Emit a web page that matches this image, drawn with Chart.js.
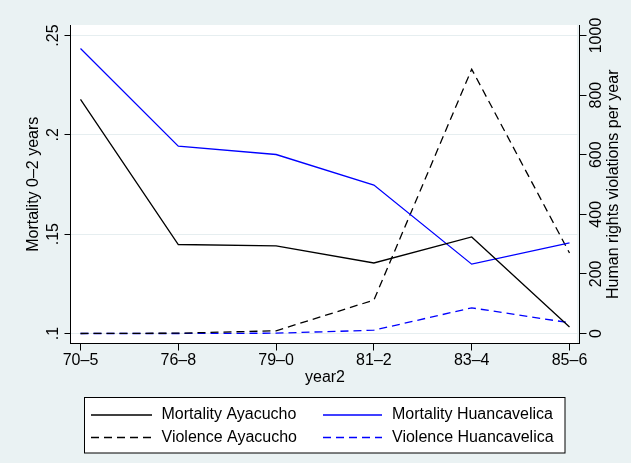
<!DOCTYPE html>
<html><head><meta charset="utf-8">
<script src="https://cdn.jsdelivr.net/npm/chart.js@4"></script>
<style>html,body{margin:0;padding:0;background:#eaf2f3;} #wrap{width:631px;height:463px;position:relative}</style>
</head><body><div id="wrap"><canvas id="c" width="631" height="463"></canvas></div>
<script>
const categories = ['70–5','76–8','79–0','81–2','83–4','85–6'];
const mortalityAyacucho = [0.2178, 0.1448, 0.1441, 0.1355, 0.1486, 0.1033];
const mortalityHuancavelica = [0.2435, 0.1943, 0.1901, 0.1747, 0.1349, 0.1456];
const violenceAyacucho = [0, 1, 9, 112, 887, 270];
const violenceHuancavelica = [0, 0, 1, 11, 86, 36];
const leftTicks = [0.1, 0.15, 0.2, 0.25];
const leftTickLabels = ['.1', '.15', '.2', '.25'];
const rightTicks = [0, 200, 400, 600, 800, 1000];
const rightTickLabels = ['0', '200', '400', '600', '800', '1000'];
const seriesLabels = ['Mortality Ayacucho', 'Mortality Huancavelica', 'Violence Ayacucho', 'Violence Huancavelica'];
const leftTitle = 'Mortality 0–2 years';
const rightTitle = 'Human rights violations per year';
const xTitle = 'year2';

const FAMILY = '"Liberation Sans", Arial, Helvetica, sans-serif';
const FONT = '16px ' + FAMILY;
const DASH = [8, 5];

function pts(arr) { return arr.map((v, i) => ({x: i, y: v})); }

function rotText(ctx, txt, x, y) {
  ctx.save();
  ctx.translate(x, y);
  ctx.rotate(-Math.PI / 2);
  ctx.fillText(txt, 0, 0);
  ctx.restore();
}

const decor = {
  id: 'decor',
  beforeDraw(chart) {
    const {ctx, chartArea: a} = chart;
    ctx.save();
    ctx.fillStyle = '#eaf2f3';
    ctx.fillRect(0, 0, chart.width, chart.height);
    ctx.fillStyle = '#ffffff';
    ctx.fillRect(a.left, a.top, a.right - a.left - 2.5, a.bottom - a.top);
    ctx.restore();
  },
  afterDraw(chart) {
    const ctx = chart.ctx;
    const yl = chart.scales.y, yr = chart.scales.y2;
    ctx.save();
    ctx.fillStyle = '#000';
    ctx.font = FONT;
    ctx.textAlign = 'center';
    ctx.textBaseline = 'alphabetic';
    yl.ticks.forEach((t, i) => rotText(ctx, leftTickLabels[i], 58, yl.getPixelForValue(t.value)));
    yr.ticks.forEach((t, i) => rotText(ctx, rightTickLabels[i], 600.5, yr.getPixelForValue(t.value)));
    const a = chart.chartArea;
    rotText(ctx, rightTitle, 617.5, (a.top + a.bottom) / 2);

    // legend
    const bx = 84.5, by = 397.5, bw = 480.5, bh = 55.5;
    ctx.fillStyle = '#ffffff';
    ctx.fillRect(bx, by, bw, bh);
    ctx.strokeStyle = '#000';
    ctx.lineWidth = 1;
    ctx.strokeRect(bx, by, bw, bh);
    const cols = [[91, 152, 161.5], [323, 382, 392]];
    const rows = [415, 437.5];
    chart.data.datasets.forEach((ds, i) => {
      const c = cols[i % 2], ry = rows[Math.floor(i / 2)];
      ctx.save();
      ctx.strokeStyle = ds.borderColor;
      ctx.lineWidth = ds.borderWidth;
      ctx.setLineDash(ds.borderDash || []);
      ctx.beginPath();
      ctx.moveTo(c[0], ry);
      ctx.lineTo(c[1], ry);
      ctx.stroke();
      ctx.restore();
      ctx.fillStyle = '#000';
      ctx.textAlign = 'left';
      ctx.textBaseline = 'middle';
      ctx.fillText(ds.label, c[2], ry);
    });
    ctx.restore();
  }
};

const ds = (label, data, color, axis, dash) => ({
  label, data: pts(data), yAxisID: axis,
  borderColor: color, backgroundColor: color, borderWidth: 1.3,
  borderDash: dash, pointRadius: 0, tension: 0, fill: false
});

new Chart(document.getElementById('c'), {
  type: 'line',
  data: {
    datasets: [
      ds(seriesLabels[0], mortalityAyacucho, '#000000', 'y', []),
      ds(seriesLabels[1], mortalityHuancavelica, '#0000ff', 'y', []),
      ds(seriesLabels[2], violenceAyacucho, '#000000', 'y2', DASH),
      ds(seriesLabels[3], violenceHuancavelica, '#0000ff', 'y2', DASH)
    ]
  },
  options: {
    responsive: false,
    animation: false,
    devicePixelRatio: 1,
    layout: {padding: {top: 25, left: 0, right: 0, bottom: 0}},
    plugins: {legend: {display: false}, tooltip: {enabled: false}},
    scales: {
      x: {
        type: 'linear', position: 'bottom',
        min: -0.1022, max: 5.1022,
        afterBuildTicks: s => { s.ticks = categories.map((_, i) => ({value: i})); },
        afterFit: s => { s.height = 119.5; },
        ticks: {
          color: '#000', font: {family: FAMILY, size: 16}, padding: 0,
          maxRotation: 0, autoSkip: false,
          callback: v => categories[v]
        },
        grid: {drawOnChartArea: false, tickColor: '#000', tickLength: 7, lineWidth: 1},
        border: {display: true, color: '#000', width: 1},
        title: {display: true, text: xTitle, color: '#000', font: {family: FAMILY, size: 16}, padding: {top: 0, bottom: 75.4}}
      },
      y: {
        type: 'linear', position: 'left',
        min: 0.09497, max: 0.25529,
        afterBuildTicks: s => { s.ticks = leftTicks.map(v => ({value: v})); },
        afterFit: s => { s.width = 70.5; },
        ticks: {display: false},
        grid: {drawOnChartArea: true, color: '#e6eef0', tickColor: '#000', tickLength: 6, lineWidth: 1},
        border: {display: true, color: '#000', width: 1},
        title: {display: true, text: leftTitle, color: '#000', font: {family: FAMILY, size: 16}, padding: {top: 24.2, bottom: 0}}
      },
      y2: {
        type: 'linear', position: 'right',
        min: -33.6, max: 1035.2,
        afterBuildTicks: s => { s.ticks = rightTicks.map(v => ({value: v})); },
        afterFit: s => { s.width = 51.5; },
        ticks: {display: false},
        grid: {drawOnChartArea: false, tickColor: '#000', tickLength: 7, lineWidth: 1},
        border: {display: true, color: '#000', width: 1}
      }
    }
  },
  plugins: [decor]
});
</script>
</body></html>
